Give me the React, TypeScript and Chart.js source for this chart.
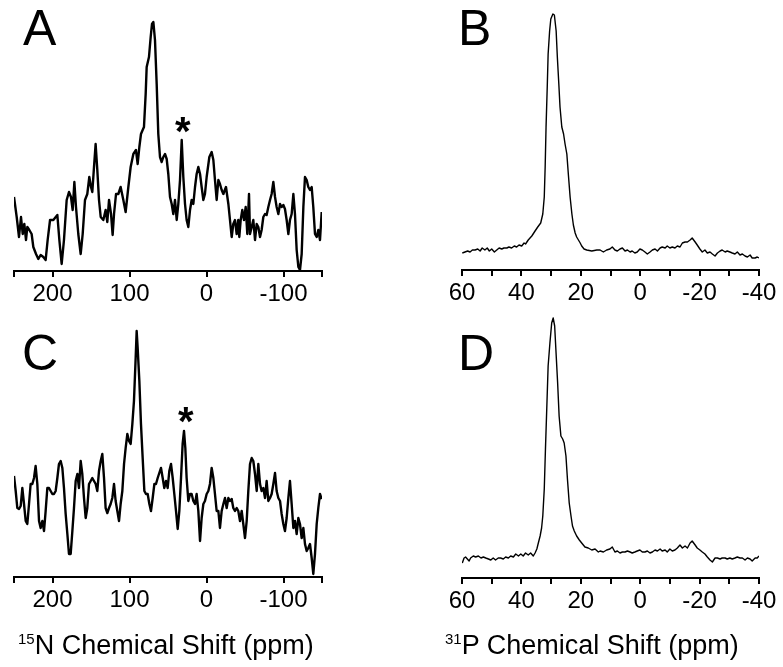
import React, { useEffect, useRef } from "react";
import { Chart, registerables } from "chart.js";

Chart.register(...registerables);

const FONT = "'Liberation Sans', Arial, Helvetica, sans-serif";

// Panel A: 15N spectrum (ppm, intensity a.u.)
const shiftA = [250,246.5,243.5,240.9,238.7,236.6,234.4,232.7,230.1,227.1,224.9,221.4,218.4,215.4,211.9,208.9,206.3,203.2,198.9,193.7,191.1,188.1,185.1,181.6,178.6,176.0,173.8,171.6,169.5,166.5,163.4,160.8,157.8,154.8,152.2,150.0,148.3,146.1,144.0,141.8,139.6,137.4,134.0,131.0,128.8,126.6,124.0,121.9,120.1,117.5,114.5,111.5,108.0,105.0,101.5,98.5,95.0,91.6,89.4,87.2,85.1,82.9,81.2,79.0,77.7,74.7,72.5,70.8,69.0,66.9,64.7,62.6,60.4,58.2,56.1,53.9,51.7,49.6,47.4,45.2,43.1,40.9,38.7,36.6,34.4,32.2,30.1,27.9,25.8,23.6,21.4,19.3,17.1,14.9,12.8,10.6,8.4,6.3,4.1,2.0,-0.2,-3.7,-6.7,-8.9,-11.0,-13.2,-15.4,-17.5,-19.7,-21.9,-25.3,-28.4,-30.5,-32.7,-34.8,-37.0,-39.2,-41.3,-42.6,-44.4,-46.5,-48.7,-50.9,-53.0,-55.2,-56.5,-58.7,-60.8,-63.0,-65.2,-67.3,-69.5,-71.6,-73.8,-76.0,-78.1,-80.3,-82.5,-84.6,-86.8,-89.0,-91.1,-93.3,-95.5,-97.6,-99.8,-101.9,-104.1,-106.3,-108.4,-110.6,-112.8,-114.9,-117.1,-119.3,-121.4,-123.6,-125.8,-127.9,-130.1,-132.2,-134.4,-136.6,-138.7,-140.9,-143.1,-145.2,-147.4,-149.6];
const intensityA = [74,54,34,54,37,47,31,44,41,37,24,17,12,16,14,11,31,51,51,56,31,7,31,71,79,74,61,89,64,37,17,37,71,77,94,84,79,104,127,101,71,54,51,61,49,71,57,36,57,77,77,84,71,59,84,104,117,121,107,124,137,141,144,177,204,214,234,247,249,231,187,137,114,109,114,117,112,97,74,67,57,71,51,67,91,131,94,67,51,44,61,71,67,84,97,104,97,84,71,77,94,114,119,111,91,71,91,87,81,77,84,67,51,34,47,51,37,51,34,51,61,51,64,37,77,37,44,51,31,47,44,34,41,54,57,56,64,71,77,89,74,64,57,67,64,66,62,51,37,51,57,77,57,21,4,1,17,64,94,91,84,81,84,64,37,34,41,31,59];

// Panel B: 31P spectrum
const shiftB = [59.9,59.0,58.1,57.3,56.5,55.6,54.7,53.9,53.2,52.3,51.5,50.8,50.0,49.1,48.3,47.5,46.6,45.9,44.9,44.2,43.3,42.4,41.6,40.8,39.9,39.1,38.6,37.7,36.5,35.4,34.5,33.5,32.8,32.3,32.0,31.7,31.3,31.0,30.5,30.1,29.4,28.9,28.3,27.9,27.4,27.0,26.4,25.8,25.3,24.7,24.2,23.6,23.0,22.5,21.9,21.4,20.8,20.2,19.7,18.9,18.0,16.3,14.6,13.5,12.4,11.3,10.2,9.4,8.5,7.7,6.8,6.0,5.1,4.3,3.4,2.7,1.8,1.0,0.1,-0.7,-1.6,-2.4,-3.3,-4.1,-5.0,-5.8,-6.7,-7.4,-8.4,-9.1,-10.0,-10.8,-11.7,-12.5,-13.4,-14.2,-15.1,-15.9,-16.8,-17.5,-18.5,-19.2,-20.1,-20.9,-21.8,-22.6,-23.5,-24.3,-25.2,-26.0,-26.9,-27.6,-28.6,-29.3,-30.2,-31.0,-31.9,-32.7,-33.6,-34.4,-35.3,-36.1,-37.0,-37.7,-38.7,-39.4,-40];
const intensityB = [17,18,19,18,20,20,21,19,22,20,22,19,21,18,20,22,21,22,22,23,22,24,23,25,24,27,26,30,34,39,43,47,56,73,103,143,183,216,239,251,256,255,239,213,186,163,143,136,126,116,96,73,56,45,37,33,30,27,24,21,20,19,20,20,18,20,21,23,20,19,21,22,19,20,18,19,17,18,21,20,18,16,18,20,21,19,22,23,22,24,22,23,22,24,23,27,28,28,30,32,28,25,21,18,20,17,18,16,14,17,19,20,18,19,18,17,16,18,15,16,14,13,15,12,12,13,12];

// Panel C: 15N spectrum
const shiftC = [250,247.8,245.7,243.5,241.3,239.2,237.0,234.8,232.7,230.5,228.4,226.2,224.0,221.9,219.7,217.5,215.4,213.2,211.0,208.9,206.7,204.5,202.4,200.2,198.1,195.9,193.7,191.6,189.4,187.2,185.1,182.9,180.7,178.6,176.4,174.2,172.1,169.9,167.7,165.6,163.4,161.3,159.1,156.9,154.8,152.6,150.4,148.3,146.1,143.9,141.8,139.6,137.4,135.3,133.1,131.0,128.8,126.6,124.5,122.3,120.1,118.0,115.8,113.6,111.5,109.3,107.1,105.0,102.8,100.6,98.5,96.3,94.2,92.0,90.7,89.4,87.2,85.1,82.9,80.7,78.6,76.4,74.2,72.1,69.9,67.7,65.6,63.4,61.3,59.1,56.9,54.8,52.6,50.4,48.3,46.1,43.9,41.8,39.6,37.4,35.3,33.1,31.0,29.2,27.5,25.8,23.6,21.4,19.3,17.1,14.9,12.8,10.6,8.4,6.3,4.1,2.0,-0.2,-2.4,-4.5,-6.7,-8.9,-11.0,-13.2,-15.4,-17.5,-19.7,-21.9,-24.0,-26.2,-28.4,-30.5,-32.7,-34.8,-37.0,-39.2,-41.3,-43.5,-45.7,-47.8,-50.0,-52.2,-54.3,-56.5,-58.7,-60.8,-63.0,-65.2,-67.3,-69.5,-71.6,-73.8,-76.0,-78.1,-80.3,-82.5,-84.6,-86.8,-89.0,-91.1,-93.3,-95.5,-97.6,-99.8,-101.9,-104.1,-106.3,-108.4,-110.6,-112.8,-114.9,-117.1,-119.3,-121.4,-123.6,-125.8,-127.9,-130.1,-132.2,-134.4,-136.6,-138.7,-140.9,-143.1,-145.2,-147.4,-149.6];
const intensityC = [101,86,69,68,71,89,73,56,53,73,93,93,99,111,93,56,49,56,46,66,89,89,86,83,83,86,99,113,116,109,89,63,43,23,23,46,69,96,103,89,116,103,79,59,69,93,96,99,96,93,86,106,116,123,99,69,64,69,73,79,93,76,66,56,73,86,113,129,143,136,133,153,176,219,246,229,196,153,119,86,83,83,73,66,79,93,93,99,104,109,99,89,96,89,106,113,99,83,66,48,66,99,133,146,129,99,76,83,83,76,73,83,66,36,59,73,76,83,86,93,109,99,83,66,66,49,66,73,79,69,79,76,78,69,66,69,66,56,66,53,39,56,86,113,119,116,103,86,113,93,86,89,79,96,76,79,83,93,104,86,79,76,63,53,46,59,79,96,73,49,56,43,59,53,39,49,33,26,29,33,19,3,23,53,69,83,78];

// Panel D: 31P spectrum
const shiftD = [59.9,59.3,58.8,58.2,57.6,57.1,56.2,55.4,54.5,53.6,52.8,52.0,51.1,50.3,49.5,48.7,47.8,47.0,46.1,45.3,44.4,43.6,42.7,41.9,41.0,40.2,39.4,38.6,37.7,36.9,36.0,35.4,34.8,34.3,33.7,33.2,32.8,32.3,31.9,31.4,31.0,30.4,29.8,29.3,28.8,28.4,27.8,27.3,26.7,26.1,25.6,25.0,24.5,23.9,23.3,22.8,22.2,21.4,20.5,19.7,18.6,17.5,16.3,15.2,14.1,13.5,12.4,11.3,10.2,9.4,8.5,7.7,6.8,6.0,5.1,4.3,3.4,2.7,1.8,1.0,0.1,-0.7,-1.6,-2.4,-3.3,-4.1,-5.0,-5.8,-6.7,-7.4,-8.4,-9.1,-10.0,-10.8,-11.7,-12.5,-13.4,-14.2,-15.1,-15.9,-16.8,-17.5,-18.5,-19.2,-20.1,-20.9,-21.8,-22.6,-23.5,-24.3,-25.2,-26.0,-26.9,-27.6,-28.6,-29.3,-30.2,-31.0,-31.9,-32.7,-33.6,-34.4,-35.3,-36.1,-37.0,-37.7,-38.7,-39.4,-40];
const intensityD = [15,20,21,19,17,20,22,21,22,20,21,20,19,18,20,18,20,20,19,21,20,22,21,24,22,24,22,25,23,25,22,25,29,35,42,50,62,89,129,175,212,235,255,260,252,229,195,162,142,139,135,122,99,75,62,52,47,42,38,35,31,30,28,29,26,27,26,28,29,31,26,27,25,26,26,27,26,25,26,27,28,26,26,27,25,26,28,27,29,27,28,26,29,27,28,30,33,30,32,30,35,37,33,30,28,26,24,21,18,16,20,20,19,20,20,19,20,19,20,21,20,20,18,20,19,17,20,20,22];

// Axis ticks
const nTicks = [250, 200, 100, 0, -100, -150];
const nTickLabels = [200, 100, 0, -100];
const pTicks = [60, 50, 40, 30, 20, 10, 0, -10, -20, -30, -40];
const pTickLabels = [60, 40, 20, 0, -20, -40];

const PAD_L = 40;
const PAD_R = 40;
const PAD_T = 4;
const AXIS_H = 50;

type PanelProps = {
  xs: number[];
  ys: number[];
  left: number;
  right: number;
  top: number;
  bottom: number;
  xMin: number;
  xMax: number;
  yMax: number;
  tickValues: number[];
  labelValues: number[];
  lineWidth: number;
};

function Panel(p: PanelProps) {
  const ref = useRef<HTMLCanvasElement | null>(null);
  const w = p.right - p.left + PAD_L + PAD_R;
  const h = p.bottom - p.top + PAD_T + AXIS_H;
  useEffect(() => {
    if (!ref.current) return;
    const chart = new Chart(ref.current, {
      type: "line",
      data: {
        datasets: [
          {
            data: p.xs.map((x, i) => ({ x, y: p.ys[i] })),
            borderColor: "#000",
            borderWidth: p.lineWidth,
            pointRadius: 0,
            tension: 0,
            fill: false,
            borderJoinStyle: "round",
          },
        ],
      },
      options: {
        animation: false,
        responsive: false,
        maintainAspectRatio: false,
        events: [],
        layout: { padding: { left: PAD_L, right: PAD_R, top: PAD_T, bottom: 0 } },
        plugins: { legend: { display: false }, tooltip: { enabled: false } },
        scales: {
          x: {
            type: "linear",
            reverse: true,
            min: p.xMin,
            max: p.xMax,
            afterBuildTicks: (s: any) => {
              s.ticks = p.tickValues.map((v) => ({ value: v }));
            },
            afterFit: (s: any) => {
              s.height = AXIS_H;
            },
            ticks: {
              autoSkip: false,
              maxRotation: 0,
              minRotation: 0,
              color: "#000",
              padding: 3,
              font: { family: FONT, size: 24 },
              callback: (v: any) => (p.labelValues.includes(Number(v)) ? String(v) : ""),
            },
            grid: {
              drawOnChartArea: false,
              drawTicks: true,
              tickLength: 6,
              color: "#000",
              lineWidth: 2,
            },
            border: { display: true, color: "#000", width: 2 },
          },
          y: { display: false, min: 0, max: p.yMax },
        },
      },
    } as any);
    return () => chart.destroy();
  }, []);
  return (
    <canvas
      ref={ref}
      width={w}
      height={h}
      style={{
        position: "absolute",
        left: p.left - PAD_L,
        top: p.top - PAD_T,
        width: w,
        height: h,
        display: "block",
      }}
    />
  );
}

const letterStyle = (left: number, top: number): React.CSSProperties => ({
  position: "absolute",
  left,
  top,
  fontFamily: FONT,
  fontSize: 50,
  lineHeight: 1,
  color: "#000",
});

const starStyle = (left: number, top: number): React.CSSProperties => ({
  position: "absolute",
  left,
  top,
  fontFamily: FONT,
  fontSize: 40,
  fontWeight: "bold",
  lineHeight: 1,
  color: "#000",
});

const titleStyle = (left: number, top: number): React.CSSProperties => ({
  position: "absolute",
  left,
  top,
  fontFamily: FONT,
  fontSize: 27,
  lineHeight: "normal",
  color: "#000",
  whiteSpace: "nowrap",
});

export default function App() {
  return (
    <div
      style={{
        position: "absolute",
        left: 0,
        top: 0,
        width: 783,
        height: 667,
        background: "#fff",
        overflow: "hidden",
      }}
    >
      <Panel xs={shiftA} ys={intensityA} left={14} right={322} top={16} bottom={271} xMin={-150} xMax={250} yMax={255} tickValues={nTicks} labelValues={nTickLabels} lineWidth={2.4} />
      <Panel xs={shiftB} ys={intensityB} left={462} right={759} top={10} bottom={270} xMin={-40} xMax={60} yMax={260} tickValues={pTicks} labelValues={pTickLabels} lineWidth={1.4} />
      <Panel xs={shiftC} ys={intensityC} left={14} right={322} top={322} bottom={577} xMin={-150} xMax={250} yMax={255} tickValues={nTicks} labelValues={nTickLabels} lineWidth={2.4} />
      <Panel xs={shiftD} ys={intensityD} left={462} right={759} top={313} bottom={578} xMin={-40} xMax={60} yMax={265} tickValues={pTicks} labelValues={pTickLabels} lineWidth={1.4} />

      <div style={letterStyle(23, 3)}>A</div>
      <div style={letterStyle(458, 3)}>B</div>
      <div style={letterStyle(22, 328)}>C</div>
      <div style={letterStyle(458, 328)}>D</div>

      <div style={starStyle(175, 111)}>*</div>
      <div style={starStyle(178, 401)}>*</div>

      <div style={titleStyle(18, 630)}>
        <span style={{ fontSize: 15, verticalAlign: "top" }}>15</span>N Chemical Shift (ppm)
      </div>
      <div style={titleStyle(445, 630)}>
        <span style={{ fontSize: 15, verticalAlign: "top" }}>31</span>P Chemical Shift (ppm)
      </div>
    </div>
  );
}
